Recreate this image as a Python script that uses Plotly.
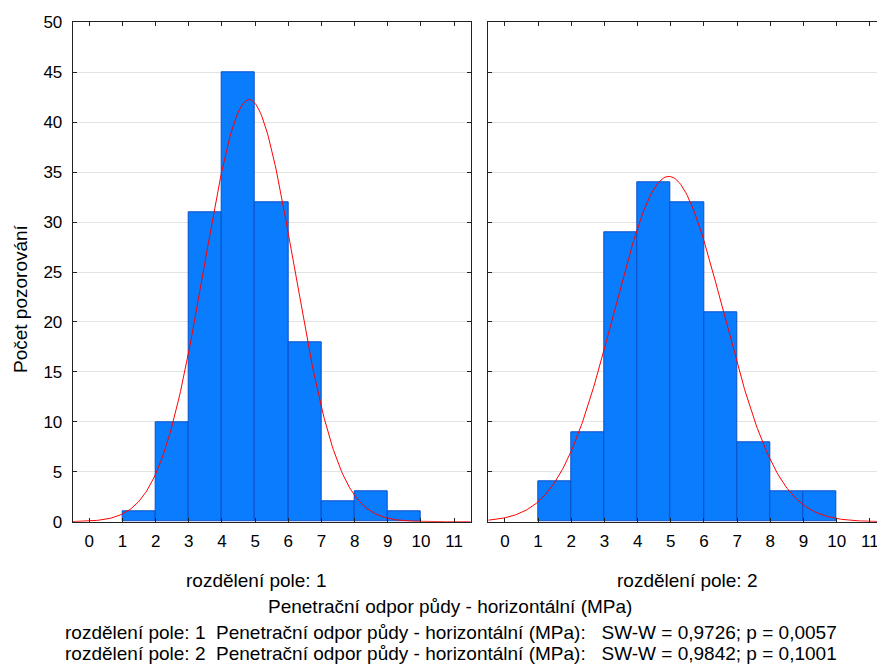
import numpy as np
import plotly.graph_objects as go

# ---- data ----
bin_left = [1, 2, 3, 4, 5, 6, 7, 8, 9]
counts_pole1 = [1, 10, 31, 45, 32, 18, 2, 3, 1]
counts_pole2 = [4, 9, 29, 34, 32, 21, 8, 3, 3]
bin_width = 1.0
n_pole1 = sum(counts_pole1)
n_pole2 = sum(counts_pole2)
mean_pole1, sd_pole1 = 4.82, 1.35
mean_pole2, sd_pole2 = 4.94, 1.65
x_ticks = list(range(0, 12))
y_ticks = list(range(0, 55, 5))
panel_labels = ["rozdělení pole: 1", "rozdělení pole: 2"]
x_title = "Penetrační odpor půdy - horizontální (MPa)"
y_title = "Počet pozorování"
stat_lines = [
    "rozdělení pole: 1  Penetrační odpor půdy - horizontální (MPa):   SW-W = 0,9726; p = 0,0057",
    "rozdělení pole: 2  Penetrační odpor půdy - horizontální (MPa):   SW-W = 0,9842; p = 0,1001",
]

W, H = 877, 664
FONT = "Liberation Sans, Arial, sans-serif"
BAR_FILL = "#0A7DFF"
BAR_LINE = "#0A4FC8"
TXT = 19
TICK = 17


def normal_curve(x, n, mu, sd):
    return n * bin_width / (sd * np.sqrt(2 * np.pi)) * np.exp(-0.5 * ((x - mu) / sd) ** 2)


fig = go.Figure()

x1_range = [-0.5, 11.5]
x2_range = [-0.5, 11.215]

centers = [b + bin_width / 2 for b in bin_left]

fig.add_trace(go.Bar(x=centers, y=counts_pole1, width=bin_width,
                     marker=dict(color=BAR_FILL, line=dict(color=BAR_LINE, width=1)),
                     xaxis="x", yaxis="y", showlegend=False, hoverinfo="skip"))
fig.add_trace(go.Bar(x=centers, y=counts_pole2, width=bin_width,
                     marker=dict(color=BAR_FILL, line=dict(color=BAR_LINE, width=1)),
                     xaxis="x2", yaxis="y2", showlegend=False, hoverinfo="skip"))

xc1 = np.linspace(x1_range[0], x1_range[1], 300)
xc2 = np.linspace(x2_range[0], x2_range[1], 300)
fig.add_trace(go.Scatter(x=xc1, y=normal_curve(xc1, n_pole1, mean_pole1, sd_pole1),
                         mode="lines", line=dict(color="#FF0000", width=1),
                         xaxis="x", yaxis="y", showlegend=False, hoverinfo="skip"))
fig.add_trace(go.Scatter(x=xc2, y=normal_curve(xc2, n_pole2, mean_pole2, sd_pole2),
                         mode="lines", line=dict(color="#FF0000", width=1),
                         xaxis="x2", yaxis="y2", showlegend=False, hoverinfo="skip"))

ydom = [1 - 521.7 / H, 1 - 22.3 / H]
axis_common = dict(showline=True, linecolor="#222222", linewidth=1,
                   ticks="inside", ticklen=4, tickcolor="#222222",
                   tickfont=dict(family=FONT, size=TICK, color="#000000"),
                   zeroline=False, automargin=False)

fig.update_layout(
    width=W, height=H, autosize=False,
    margin=dict(l=0, r=0, t=0, b=0, pad=0),
    paper_bgcolor="white", plot_bgcolor="white",
    bargap=0,
    font=dict(family=FONT, size=TICK, color="#000000"),
    xaxis=dict(domain=[72.7 / W, 470.7 / W], range=x1_range, tickvals=x_ticks,
               mirror="ticks", showgrid=False, anchor="y",
               ticklabelstandoff=4, **axis_common),
    yaxis=dict(domain=ydom, range=[0, 50], tickvals=y_ticks, mirror="ticks",
               showgrid=True, gridcolor="#E3E3E3", gridwidth=1, anchor="x",
               ticklabelstandoff=6, **axis_common),
    xaxis2=dict(domain=[488.3 / W, 1.0], range=x2_range, tickvals=x_ticks,
                mirror="ticks", showgrid=False, anchor="y2",
                ticklabelstandoff=4, **axis_common),
    yaxis2=dict(domain=ydom, range=[0, 50], tickvals=y_ticks, mirror=False,
                showticklabels=False, showgrid=True, gridcolor="#E3E3E3",
                gridwidth=1, anchor="x2", **axis_common),
)

ann = []
ann.append(dict(text=panel_labels[0], x=256 / W, y=1 - 580 / H))
ann.append(dict(text=panel_labels[1], x=687 / W, y=1 - 580 / H))
ann.append(dict(text=x_title, x=450 / W, y=1 - 606.5 / H))
ann.append(dict(text=stat_lines[0], x=63 / W, y=1 - 632.5 / H, xanchor="left"))
ann.append(dict(text=stat_lines[1], x=63 / W, y=1 - 653.5 / H, xanchor="left"))
ann.append(dict(text=y_title, x=20 / W, y=1 - 299 / H, textangle=-90))
for a in ann:
    a.setdefault("xanchor", "center")
    a.update(xref="paper", yref="paper", yanchor="middle", showarrow=False,
             font=dict(family=FONT, size=TXT, color="#000000"))
# last tick label of the right panel, cut by the window edge as in the original
ann.append(dict(text=str(x_ticks[-1]), x=x_ticks[-1], xref="x2", y=1 - 541 / H,
                yref="paper", xanchor="center", yanchor="middle", showarrow=False,
                font=dict(family=FONT, size=TICK, color="#000000")))
fig.update_layout(annotations=ann)

post = ("document.body.style.margin='0';document.body.style.padding='0';"
        "document.body.style.overflow='hidden';"
        "document.documentElement.style.overflow='hidden';")

fig.write_html("out.html", config={"responsive": False, "displayModeBar": False},
               post_script=post, default_width="877px", default_height="664px")
